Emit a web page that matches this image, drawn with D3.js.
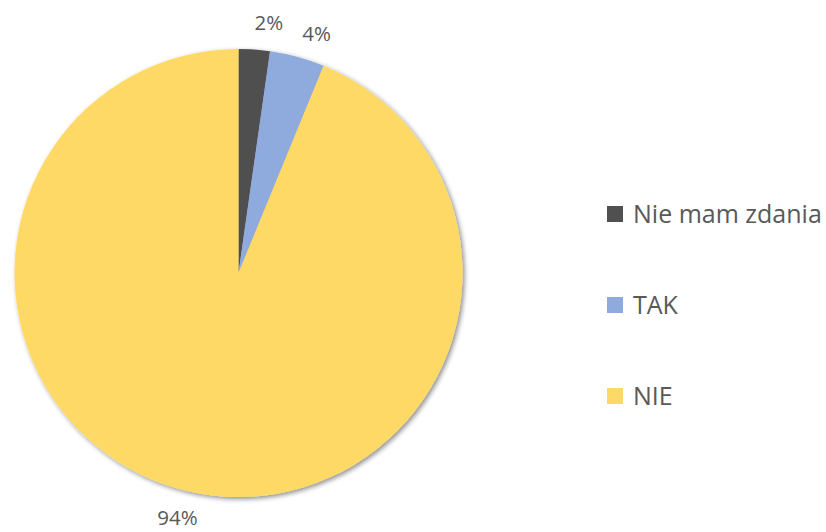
<!DOCTYPE html>
<html>
<head>
<meta charset="utf-8">
<script src="https://cdn.jsdelivr.net/npm/d3@7"></script>
<style>
  body { margin: 0; background: #fff; }
  text { font-family: "Open Sans", sans-serif; fill: #595959; }
</style>
</head>
<body>
<div id="chart"></div>
<script>
// categories and values (percent of answers)
var categories = ["Nie mam zdania", "TAK", "NIE"]
var values = [2.25, 3.95, 93.8]
var labels = ["2%", "4%", "94%"]
var colors = ["#505050", "#8faadc", "#ffd966"]

var width = 826, height = 532
var cx = 238.5, cy = 273, radius = 224

var svg = d3.select("#chart")
    .append("svg")
    .attr("width", width)
    .attr("height", height)

// soft shadow under the pie
var filter = svg.append("defs").append("filter")
    .attr("id", "shadow")
    .attr("x", "-10%").attr("y", "-10%")
    .attr("width", "120%").attr("height", "120%")
filter.append("feGaussianBlur")
    .attr("in", "SourceAlpha")
    .attr("stdDeviation", 2.5)
filter.append("feOffset")
    .attr("dx", 1.5).attr("dy", 2)
    .attr("result", "blur")
filter.append("feComponentTransfer")
    .append("feFuncA").attr("type", "linear").attr("slope", 0.45)
var merge = filter.append("feMerge")
merge.append("feMergeNode")
merge.append("feMergeNode").attr("in", "SourceGraphic")

var data = categories.map(function (c, i) {
    return { name: c, value: values[i], label: labels[i], color: colors[i] }
})

var pie = d3.pie()
    .sort(null)
    .value(function (d) { return d.value; })

var arc = d3.arc().innerRadius(0).outerRadius(radius)

// labels sit just outside the rim, nudged a bit clockwise like excel does
var labelR = 252, labelShift = 0.05
function labelPos(d) {
    var a = (d.startAngle + d.endAngle) / 2 + labelShift
    return [Math.sin(a) * labelR, -Math.cos(a) * labelR]
}

var g = svg.append("g")
    .attr("transform", "translate(" + cx + "," + cy + ")")

g.append("g")
    .attr("filter", "url(#shadow)")
    .selectAll("path")
    .data(pie(data))
    .enter()
    .append("path")
    .attr("d", arc)
    .style("fill", function (d) { return d.data.color; })

g.selectAll(".lbl")
    .data(pie(data))
    .enter()
    .append("text")
    .attr("class", "lbl")
    .attr("transform", function (d) { return "translate(" + labelPos(d) + ")"; })
    .attr("text-anchor", "middle")
    .attr("dy", "0.35em")
    .style("font-size", "20.5px")
    .text(function (d) { return d.data.label; })

// legend
var legend = svg.append("g")
    .attr("transform", "translate(607,214)")

var rows = legend.selectAll("g")
    .data(data)
    .enter()
    .append("g")
    .attr("transform", function (d, i) { return "translate(0," + (i * 91) + ")"; })

rows.append("rect")
    .attr("x", 0).attr("y", -8)
    .attr("width", 16).attr("height", 16)
    .style("fill", function (d) { return d.color; })

rows.append("text")
    .attr("x", 26)
    .attr("dy", "0.35em")
    .style("font-size", "25px")
    .text(function (d) { return d.name; })
</script>
</body>
</html>
